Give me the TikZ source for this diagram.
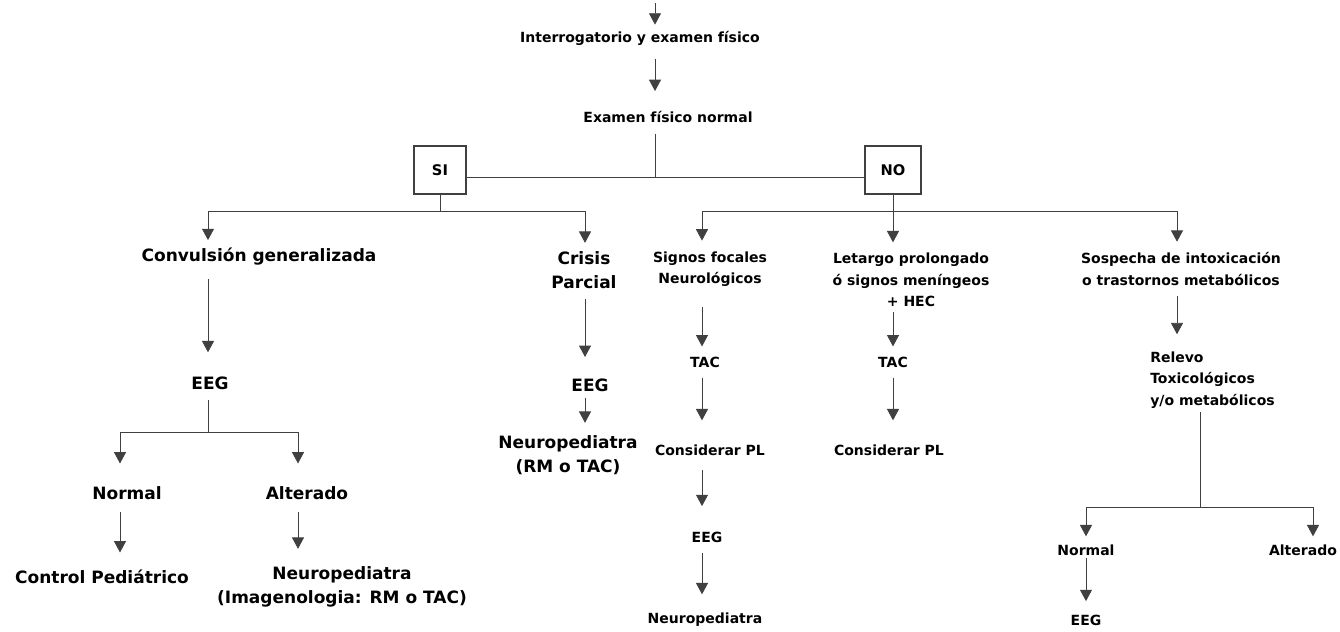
\documentclass[tikz,border=0pt]{standalone}
\usepackage{fontspec}
\setmainfont{DejaVu Sans}
\usetikzlibrary{arrows.meta}
\begin{document}
\begin{tikzpicture}[x=0.75pt,y=-0.75pt,
  sm/.style={font=\fontsize{10.5}{16}\selectfont\bfseries, align=center, inner sep=0pt},
  lg/.style={font=\fontsize{12.75}{18.5}\selectfont\bfseries, align=center, inner sep=0pt},
  ln/.style={draw=black!75, line width=0.6pt},
  arr/.style={ln, -{Triangle[width=9pt,length=8.5pt]}},
  ybox/.style={draw=black!75, line width=0.8pt, minimum height=36pt, font=\fontsize{11}{13}\selectfont\bfseries}]
\useasboundingbox[fill=white] (0,0) rectangle (1340,632);

% top
\coordinate (top) at (655,3);
\node[sm] (int) at (640,38) {Interrogatorio y examen físico};
\node[sm] (efn) at (668,117) {Examen físico normal};
\node[ybox, minimum width=39pt] (si) at (440,170) {SI};
\node[ybox, minimum width=42pt] (no) at (893,170) {NO};
\coordinate (j0) at (655,177);

\draw[arr, shorten >=4.5pt] (top) -- (top |- int.north);
\draw[arr, shorten <=10pt, shorten >=15pt] (top |- int.south) -- (top |- efn.north);
\draw[ln, shorten <=8pt] (j0 |- efn.south) -- (j0);
\draw[ln] (si.east |- j0) -- (no.west |- j0);

% SI branch
\coordinate (sj) at (440,211);
\coordinate (sl) at (208,211);
\coordinate (sr) at (585,211);
\node[lg] (conv) at (259,257) {Convulsión generalizada};
\node[lg] (crisis) at (584,270) {Crisis\\Parcial};
\node[lg] (eeg1) at (210,383) {EEG};
\coordinate (ej) at (208,432);
\coordinate (el) at (120,432);
\coordinate (er) at (298,432);
\node[lg] (nor1) at (127,493) {Normal};
\node[lg] (alt1) at (307,493) {Alterado};
\node[lg] (ctl) at (102,577) {Control Pediátrico};
\node[lg] (neu1) at (342,587) {Neuropediatra\\(Imagenologia: RM o TAC)};
\node[lg] (eeg2) at (590,385) {EEG};
\node[lg] (neu2) at (568,455) {Neuropediatra\\(RM o TAC)};

\draw[ln] (si.south) -- (sj);
\draw[ln] (sl) -- (sr);
\draw[arr, shorten >=6pt] (sl) -- (sl |- conv.north);
\draw[arr, shorten >=6pt] (sr) -- (sr |- crisis.north);
\draw[arr, shorten <=10pt, shorten >=18pt] (sl |- conv.south) -- (sl |- eeg1.north);
\draw[ln, shorten <=8pt] (ej |- eeg1.south) -- (ej);
\draw[ln] (el) -- (er);
\draw[arr, shorten >=17pt] (el) -- (el |- nor1.north);
\draw[arr, shorten >=17pt] (er) -- (er |- alt1.north);
\draw[arr, shorten <=9pt, shorten >=13pt] (el |- nor1.south) -- (el |- ctl.north);
\draw[arr, shorten <=9pt, shorten >=13pt] (er |- alt1.south) -- (er |- neu1.north);
\draw[arr, shorten <=7pt, shorten >=16pt] (sr |- crisis.south) -- (sr |- eeg2.north);
\draw[arr, shorten <=4.5pt, shorten >=9pt] (sr |- eeg2.south) -- (sr |- neu2.north);

% NO branch
\coordinate (nj) at (893,211);
\coordinate (nl) at (702,211);
\coordinate (nr) at (1177,211);
\node[sm] (sig) at (710,269) {Signos focales\\Neurológicos};
\node[sm] (let) at (911,280) {Letargo prolongado\\ó signos meníngeos\\+ HEC};
\node[sm] (sos) at (1181,269) {Sospecha de intoxicación\\o trastornos metabólicos};
\node[sm] (tac1) at (705,362) {TAC};
\node[sm] (tac2) at (893,362) {TAC};
\node[sm, align=left, anchor=west] (rel) at (1150,380) {Relevo\\Toxicológicos\\y/o metabólicos};
\node[sm] (cpl1) at (710,450) {Considerar PL};
\node[sm] (cpl2) at (889,450) {Considerar PL};
\node[sm] (eeg3) at (707,537) {EEG};
\node[sm] (neu3) at (705,620) {Neuropediatra};
\coordinate (rj) at (1200,507);
\coordinate (rl) at (1086,507);
\coordinate (rr) at (1313,507);
\node[sm] (nor2) at (1086,550) {Normal};
\node[sm] (alt2) at (1303,550) {Alterado};
\node[sm] (eeg4) at (1086,620) {EEG};

\draw[ln] (no.south) -- (nj);
\draw[ln] (nl) -- (nr);
\draw[arr, shorten >=8pt] (nl) -- (nl |- sig.north);
\draw[arr, shorten >=8pt] (nj) -- (nj |- let.north);
\draw[arr, shorten >=8pt] (nr) -- (nr |- sos.north);
\draw[arr, shorten <=15pt, shorten >=7.5pt] (nl |- sig.south) -- (nl |- tac1.north);
\draw[arr, shorten <=4pt, shorten >=7.5pt] (nj |- let.south) -- (nj |- tac2.north);
\draw[arr, shorten <=7.5pt, shorten >=18pt] (nl |- tac1.south) -- (nl |- cpl1.north);
\draw[arr, shorten <=7.5pt, shorten >=18pt] (nj |- tac2.south) -- (nj |- cpl2.north);
\draw[arr, shorten <=11pt, shorten >=19pt] (nl |- cpl1.south) -- (nl |- eeg3.north);
\draw[arr, shorten <=7.5pt, shorten >=14pt] (nl |- eeg3.south) -- (nl |- neu3.north);
\draw[arr, shorten <=7.5pt, shorten >=13pt] (nr |- sos.south) -- (nr |- rel.north);
\draw[ln, shorten <=3pt] (rj |- rel.south) -- (rj);
\draw[ln] (rl) -- (rr);
\draw[arr, shorten >=6pt] (rl) -- (rl |- nor2.north);
\draw[arr, shorten >=6pt] (rr) -- (rr |- alt2.north);
\draw[arr, shorten <=1.5pt, shorten >=10pt] (rl |- nor2.south) -- (rl |- eeg4.north);
\end{tikzpicture}
\end{document}
